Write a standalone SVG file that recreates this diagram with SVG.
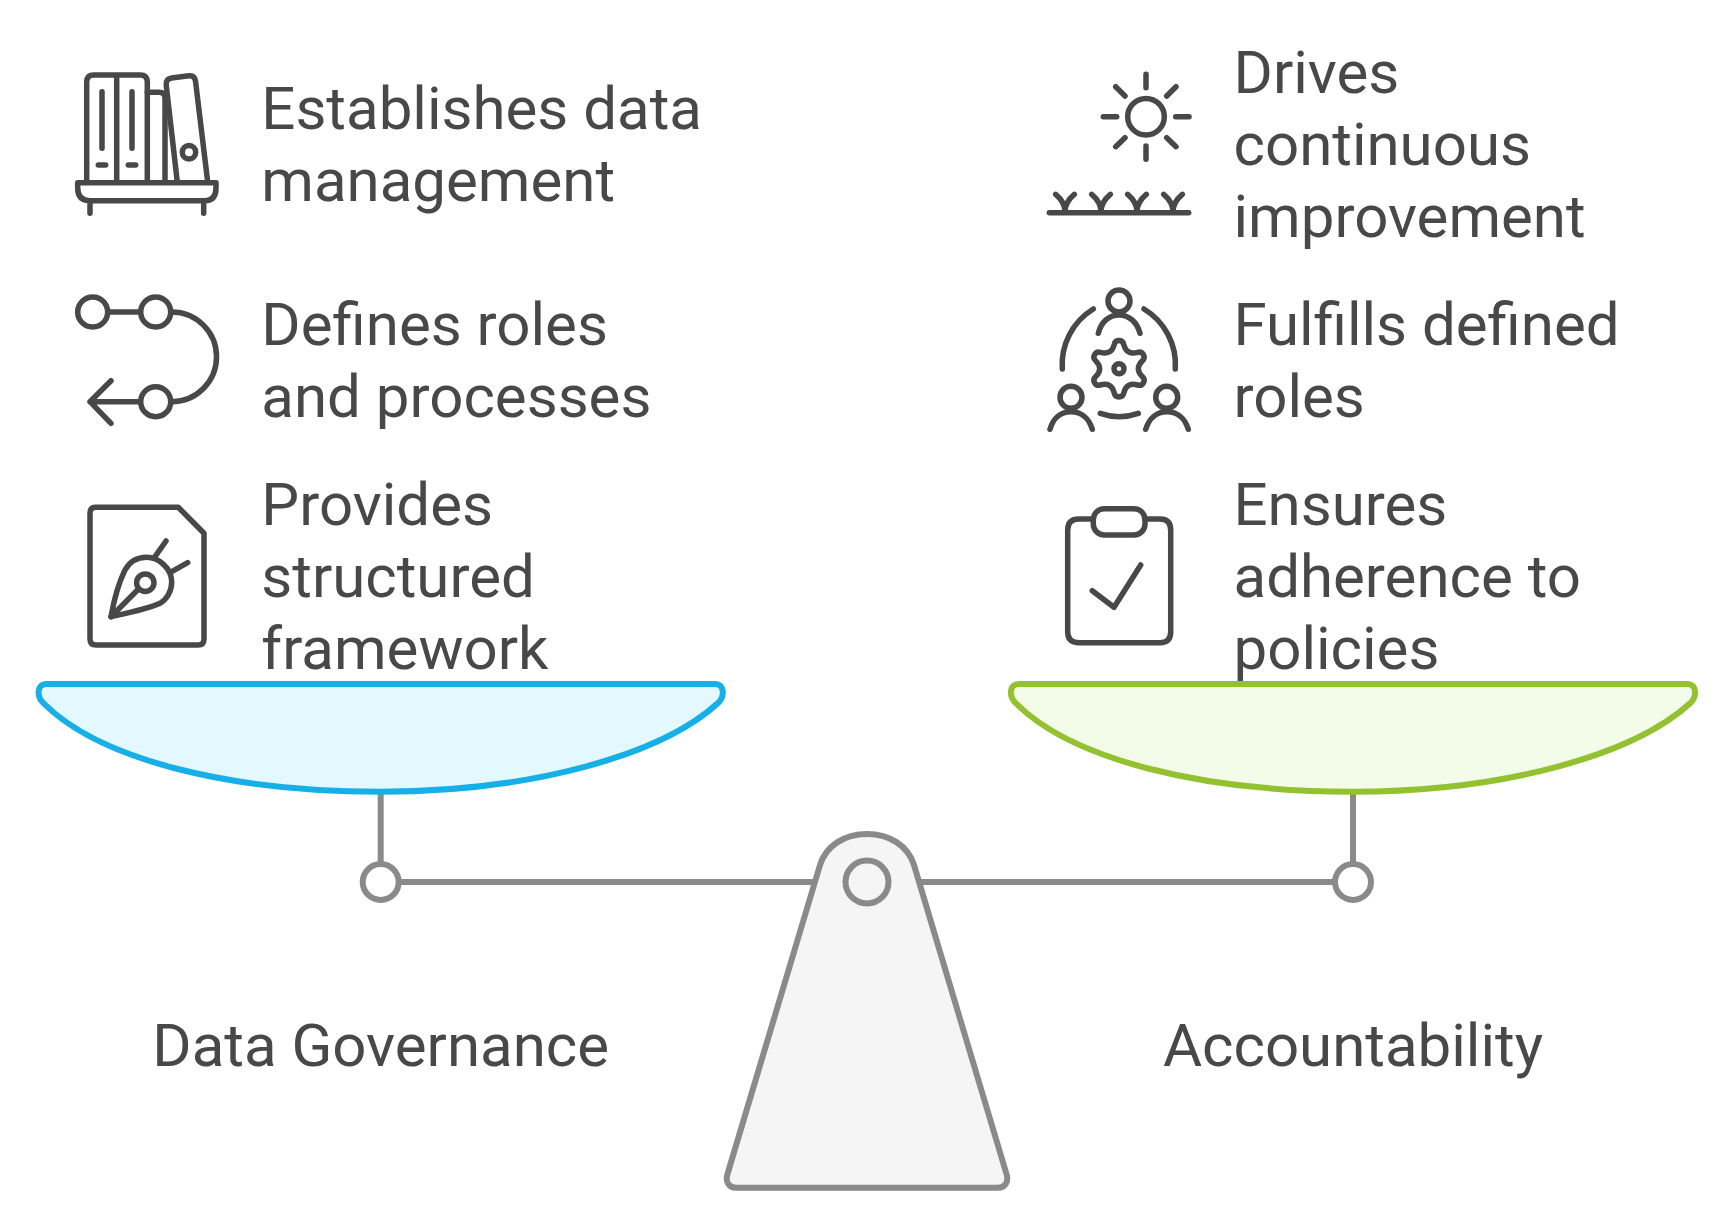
<svg xmlns="http://www.w3.org/2000/svg" width="1734" height="1227" viewBox="0 0 1734 1227">
<style>
text{font-family:Roboto,"Liberation Sans",sans-serif;font-size:60px;fill:#484848}
.i{fill:none;stroke:#484848;stroke-width:5.5;stroke-linecap:round;stroke-linejoin:round}
.s{stroke:#8a8a8a;stroke-width:6;stroke-linejoin:round}
</style>
<rect width="1734" height="1227" fill="#fff"/>

<g id="books" class="i">
<path d="M86.7 182V82Q86.7 75 93.7 75H116.7V182M116.7 75H140.3Q147.3 75 147.3 82V182"/>
<path d="M102 91.700V148.300M98.300 165H105.700M132 91.700V148.300M128.300 165H135.700"/>
<path d="M147.300 92.300H159Q165 92.300 165 98V182"/>
<path d="M177.300 182L166.200 85Q165.500 79 171.500 78L189 75.800Q194.600 75.200 195.500 81L207.700 182"/>
<circle cx="189" cy="152.300" r="6.700"/>
<path d="M77.700 182.700H216V188Q216 200.700 205 200.700H90Q77.700 200.700 77.700 188ZM90 200.700V213.300M203.700 200.700V213.300"/>
</g>
<g id="t1"><text x="261.300" y="128.500">Establishes data</text><text x="261.300" y="200.500">management</text></g>

<g id="route" class="i">
<circle cx="92.700" cy="312" r="15"/><circle cx="155.700" cy="312" r="15"/><circle cx="155.700" cy="401.700" r="15"/>
<path d="M108 312H140M171.700 312A44.850 44.850 0 0 1 171.700 401.700M140 401.700H90M111 380.700L90 401.700L111 423.300"/>
</g>
<g id="t2"><text x="261.300" y="345">Defines roles</text><text x="261.300" y="417">and processes</text></g>

<g id="pen-doc" class="i">
<path d="M96 507.300H178.300L204 533.300V639Q204 645 198 645H96Q90 645 90 639V513.300Q90 507.300 96 507.300Z"/>
<path d="M111 616.700C114 600 119 582 125 570C130 561 138 557.300 146.700 557.300C158 557.300 171.700 568 171.700 582C171.700 592 166 600 160 603.300C148 609 128 613 111 616.700Z"/>
<circle cx="145.300" cy="582.700" r="8.700"/>
<path d="M111 616.700L138.500 589M155 556.700L166 541M171.700 571.700L187.700 562.700"/>
</g>
<g id="t3"><text x="261.300" y="525">Provides</text><text x="261.300" y="597">structured</text><text x="261.300" y="669">framework</text></g>

<g id="sun" class="i">
<circle cx="1146" cy="116.700" r="18.300"/>
<path d="M1146 74.300V87.700M1146 146V159.300M1103.300 116.700H1116.700M1175.700 116.700H1189M1115.700 86.700L1125 96M1176 86.700L1166.700 96M1115.700 146.700L1125 137.700M1176 146.700L1166.700 137.700"/>
<path d="M1049.300 212.700H1188.700M1055.700 194.300Q1065 202 1065 212M1074.300 194.300Q1065 202 1065 212M1091.700 194.300Q1101 202 1101 212M1110.300 194.300Q1101 202 1101 212M1127.700 194.300Q1137 202 1137 212M1146.300 194.300Q1137 202 1137 212M1163.700 194.300Q1173 202 1173 212M1182.300 194.300Q1173 202 1173 212"/>
</g>
<g id="t4"><text x="1233.500" y="92.500">Drives</text><text x="1233.500" y="164.500">continuous</text><text x="1233.500" y="236.500">improvement</text></g>

<g id="team" class="i">
<circle cx="1119" cy="301" r="11"/><circle cx="1071" cy="397.300" r="11"/><circle cx="1166.700" cy="397.300" r="11"/>
<path d="M1098.300 333.300C1101 322 1109 315 1119 315C1129 315 1137 322 1140 333.300M1050 429.300C1053 418 1061 411.700 1071 411.700C1081 411.700 1089 418 1092.300 429.300M1145.700 429.300C1149 418 1157 411.700 1167 411.700C1177 411.700 1185 418 1188.300 429.300"/>
<path d="M1093.300 309A65 65 0 0 0 1062.300 369M1144 309A65 65 0 0 1 1175.300 369M1100.300 413.300Q1119 420 1138.300 413.300"/>
<path style="stroke-width:5.100" transform="translate(1119 368.700) scale(1.080)" d="M-4.390 -22.580A4.500 4.500 0 0 1 4.390 -22.580Q7 -12.120 17.360 -15.090A4.500 4.500 0 0 1 21.750 -7.490Q14 0 21.750 7.490A4.500 4.500 0 0 1 17.360 15.090Q7 12.120 4.390 22.580A4.500 4.500 0 0 1 -4.390 22.580Q-7 12.120 -17.360 15.090A4.500 4.500 0 0 1 -21.750 7.490Q-14 0 -21.750 -7.490A4.500 4.500 0 0 1 -17.360 -15.090Q-7 -12.120 -4.390 -22.580Z"/>
<circle cx="1119" cy="368.700" r="5"/>
</g>
<g id="t5"><text x="1233.500" y="345">Fulfills defined</text><text x="1233.500" y="417">roles</text></g>

<g id="clipboard" class="i">
<path d="M1093.300 519H1079Q1067.700 519 1067.700 530V632Q1067.700 642.700 1079 642.700H1160Q1170.700 642.700 1170.700 632V530Q1170.700 519 1160 519H1145"/>
<rect x="1093.300" y="508.700" width="51.700" height="26.300" rx="11"/>
<path d="M1092.300 590.700L1114 607.300L1140.700 565"/>
</g>
<g id="t6"><text x="1233.500" y="525">Ensures</text><text x="1233.500" y="597">adherence to</text><text x="1233.500" y="669">policies</text></g>

<g id="connectors">
<path class="s" fill="none" d="M380.700 792V864M1353 792V864M398 882H818M916 882H1335"/>
</g>
<g id="left-pan"><path class="s" style="stroke:#16b0e6" fill="#e3f8ff" d="M46.700 684H714.700C725.400 684 724.400 697 718.100 703C661.400 755 531.400 791.700 380.700 791.700C230 791.700 100 760 43.300 703C37 697 36 684 46.700 684Z"/></g>
<g id="right-pan"><path class="s" style="stroke:#94c12f" fill="#f3fbe9" d="M1019 684H1687C1697.700 684 1696.700 697 1690.400 703C1633.700 755 1503.700 791.700 1353 791.700C1202.300 791.700 1072.300 760 1015.600 703C1009.300 697 1008.300 684 1019 684Z"/></g>
<g id="left-joint"><circle class="s" fill="#fff" cx="380.700" cy="882" r="18"/></g>
<g id="right-joint"><circle class="s" fill="#fff" cx="1353" cy="882" r="18"/></g>
<g id="fulcrum"><path class="s" fill="#f5f5f5" d="M820 865C826 846 844 834 867 834C890 834 908 846 914 865L1006.500 1174C1009 1182 1005 1187.700 998 1187.700H736C729 1187.700 725 1182 727.500 1174Z"/><circle class="s" fill="none" cx="867" cy="882" r="21.500"/></g>

<g id="label-left"><text x="380.700" y="1065.500" text-anchor="middle">Data Governance</text></g>
<g id="label-right"><text x="1353" y="1065.500" text-anchor="middle">Accountability</text></g>
</svg>
